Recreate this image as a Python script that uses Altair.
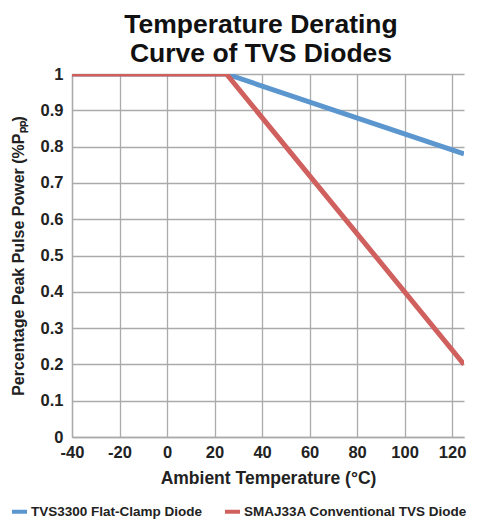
import altair as alt
import pandas as pd

series = ["TVS3300 Flat-Clamp Diode", "SMAJ33A Conventional TVS Diode"]
blue_temp = [-40, 25, 125]
blue_val = [1.0, 1.0, 0.78]
red_temp = [-40, 25, 125]
red_val = [1.0, 1.0, 0.2]
x_ticks = [-40, -20, 0, 20, 40, 60, 80, 100, 120]
y_ticks = [0, 0.1, 0.2, 0.3, 0.4, 0.5, 0.6, 0.7, 0.8, 0.9, 1.0]
colors = ["#5b96cf", "#d0605e"]

rows = []
for t, v in zip(blue_temp, blue_val):
    rows.append({"temp": t, "val": v, "series": series[0], "o": 0})
for t, v in zip(red_temp, red_val):
    rows.append({"temp": t, "val": v, "series": series[1], "o": 1})
df = pd.DataFrame(rows)

font = "Liberation Sans"

chart = alt.Chart(df).mark_line(strokeWidth=5, clip=True).encode(
    x=alt.X("temp:Q", scale=alt.Scale(domain=[-40, 125], nice=False, zero=False),
            axis=alt.Axis(values=x_ticks, title="Ambient Temperature (°C)", labelFontSize=16.5,
                          labelExpr="datum.value + ''",
                          labelFont=font, labelFontWeight="bold", labelColor="#222",
                          titleFont=font, titleFontSize=17.5, titleFontWeight="bold", titleColor="#222",
                          ticks=False, labelPadding=7, titlePadding=9, domainColor="#aaa",
                          gridColor="#aaa", gridWidth=1.3, domainWidth=1.3, labelFlush=False)),
    y=alt.Y("val:Q", scale=alt.Scale(domain=[0, 1], nice=False),
            axis=alt.Axis(values=y_ticks, title="Percentage Peak Pulse Power (%Pₚₚ)", labelFontSize=16.5,
                          format="~g",
                          labelFont=font, labelFontWeight="bold", labelColor="#222",
                          titleFont=font, titleFontSize=16, titleFontWeight="bold", titleColor="#222",
                          ticks=False, labelPadding=9, titlePadding=14, domainColor="#aaa",
                          gridColor="#aaa", gridWidth=1.3, domainWidth=1.3, labelFlush=False)),
    color=alt.Color("series:N", scale=alt.Scale(domain=series, range=colors),
                    legend=alt.Legend(orient="none", legendX=-62, legendY=428,
                                      direction="horizontal", title=None, padding=0,
                                      symbolType="stroke", symbolStrokeWidth=4, symbolSize=225,
                                      labelFont=font, labelFontSize=13.5, labelFontWeight="bold",
                                      labelColor="#222", columnPadding=14, labelOffset=2,
                                      labelLimit=300)),
    order="o:Q",
    detail="series:N",
).properties(
    width=392, height=363,
    autosize=alt.AutoSizeParams(type="none"),
    padding={"left": 64, "top": 66, "right": 5, "bottom": 86},
    title=alt.Title(["Temperature Derating", "Curve of TVS Diodes"], font=font, fontSize=26.5,
                    fontWeight="bold", color="#111", anchor="middle", offset=-1, lineHeight=29,
                    dx=-7),
).configure_view(stroke=None)

chart.save("out.html", embed_options={"renderer": "svg", "actions": False})
